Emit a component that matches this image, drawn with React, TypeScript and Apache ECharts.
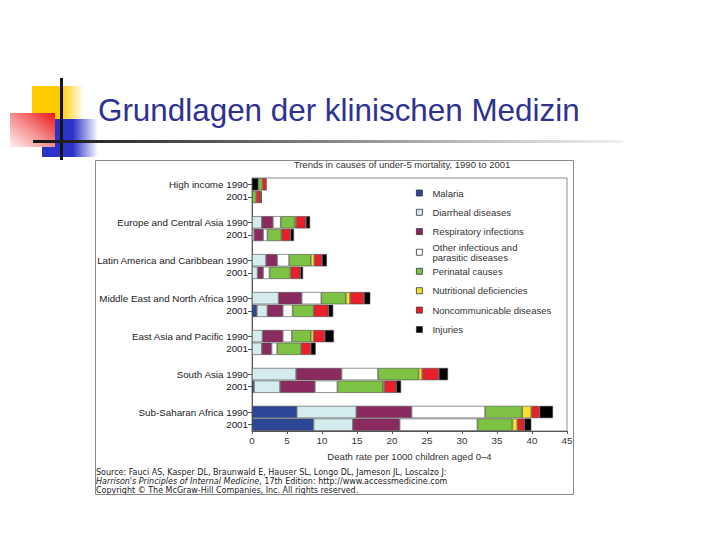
import React, { useEffect, useRef } from "react";
import * as echarts from "echarts";

const regions = [
  "High income",
  "Europe and Central Asia",
  "Latin America and Caribbean",
  "Middle East and North Africa",
  "East Asia and Pacific",
  "South Asia",
  "Sub-Saharan Africa",
];
const years = ["1990", "2001"];

// order: [HI90, HI01, EU90, EU01, LA90, LA01, ME90, ME01, EA90, EA01, SA90, SA01, SSA90, SSA01]
const injuriesLead = [0.9, 0, 0, 0, 0, 0, 0, 0, 0, 0, 0, 0, 0, 0];
const malaria = [0, 0, 0, 0, 0, 0, 0, 0.7, 0, 0, 0, 0.3, 6.4, 8.8];
const diarrheal = [0, 0, 1.4, 0.3, 2.0, 0.8, 3.8, 1.5, 1.5, 1.4, 6.3, 3.7, 8.5, 5.6];
const respiratory = [0, 0, 1.6, 1.3, 1.6, 0.8, 3.3, 2.2, 2.9, 1.4, 6.5, 5.0, 7.9, 6.7];
const otherInfectious = [0, 0, 1.1, 0.6, 1.7, 0.9, 2.8, 1.4, 1.3, 0.8, 5.2, 3.2, 10.5, 11.1];
const perinatal = [0.6, 0.6, 2.0, 2.0, 3.1, 3.0, 3.5, 3.0, 2.7, 3.4, 5.8, 6.5, 5.3, 5.0];
const nutritional = [0, 0, 0.2, 0, 0.5, 0, 0.6, 0, 0.4, 0, 0.5, 0.2, 1.3, 0.7];
const noncommunicable = [0.6, 0.6, 1.4, 1.3, 1.1, 1.4, 2.0, 2.1, 1.6, 1.4, 2.4, 1.7, 1.2, 1.0];
const injuries = [0, 0.2, 0.6, 0.5, 0.7, 0.4, 0.9, 0.7, 1.3, 0.7, 1.3, 0.7, 1.9, 1.0];

const xTicks = [0, 5, 10, 15, 20, 25, 30, 35, 40, 45];

const causes = [
  { name: "Malaria", label: "Malaria", color: "#2b4796", values: malaria },
  { name: "Diarrheal diseases", label: "Diarrheal diseases", color: "#d5ecef", values: diarrheal },
  { name: "Respiratory infections", label: "Respiratory infections", color: "#8a2a5f", values: respiratory },
  { name: "Other infectious and parasitic diseases", label: "Other infectious and\nparasitic diseases", color: "#ffffff", values: otherInfectious },
  { name: "Perinatal causes", label: "Perinatal causes", color: "#7dc242", values: perinatal },
  { name: "Nutritional deficiencies", label: "Nutritional deficiencies", color: "#f6e22a", values: nutritional },
  { name: "Noncommunicable diseases", label: "Noncommunicable diseases", color: "#e8202a", values: noncommunicable },
  { name: "Injuries", label: "Injuries", color: "#000000", values: injuries },
];

const FONT = "Liberation Sans, Arial, sans-serif";
const SRC_FONT = "DejaVu Sans, Verdana, sans-serif";

function buildCategories() {
  const cats: string[] = [];
  regions.forEach((r, i) => {
    cats.push(`${r} ${years[0]}`);
    cats.push(years[1]);
    if (i < regions.length - 1) cats.push(" ".repeat(i + 1));
  });
  return cats;
}

function expand(values: number[]) {
  const out: (number | string)[] = [];
  regions.forEach((_, i) => {
    const a = values[i * 2];
    const b = values[i * 2 + 1];
    out.push(a === 0 ? "-" : a);
    out.push(b === 0 ? "-" : b);
    if (i < regions.length - 1) out.push("-");
  });
  return out;
}

export default function App() {
  const ref = useRef<HTMLDivElement>(null);

  useEffect(() => {
    if (!ref.current) return;
    const chart = echarts.init(ref.current, undefined, { renderer: "svg" });
    const categories = buildCategories();

    const barItem = (color: string) => ({
      color,
      borderColor: "#4a4a4a",
      borderWidth: 0.6,
    });

    const series: any[] = [
      {
        name: "Injuries",
        type: "bar",
        stack: "total",
        barCategoryGap: "3%",
        data: expand(injuriesLead),
        itemStyle: barItem("#000000"),
      },
      ...causes.map((c) => ({
        name: c.name,
        type: "bar",
        stack: "total",
        barCategoryGap: "3%",
        data: expand(c.values),
        itemStyle: barItem(c.color),
      })),
    ];

    const labelMap: Record<string, string> = {};
    causes.forEach((c) => (labelMap[c.name] = c.label));

    const legendBase = {
      orient: "vertical",
      left: 416,
      padding: 0,
      icon: "rect",
      itemWidth: 6,
      itemHeight: 6,
      selectedMode: false,
      itemStyle: { borderColor: "#333", borderWidth: 0.8 },
      formatter: (n: string) => labelMap[n] || n,
      textStyle: {
        fontFamily: FONT,
        fontSize: 9.5,
        color: "#333",
        lineHeight: 11,
        padding: [0, 0, 0, 5],
      },
    };

    const srcStyle = {
      fontFamily: SRC_FONT,
      fontSize: 8,
      fill: "#222",
      verticalAlign: "middle",
    };

    const option: any = {
      animation: false,
      backgroundColor: "#ffffff",
      title: {
        text: "Trends in causes of under-5 mortality, 1990 to 2001",
        left: 402,
        top: 159,
        padding: 0,
        textAlign: "center",
        textStyle: { fontFamily: FONT, fontSize: 9.5, fontWeight: "normal", color: "#333" },
      },
      legend: [
        {
          ...legendBase,
          top: 187.5,
          itemGap: 8.3,
          data: causes.slice(0, 3).map((c) => c.name),
        },
        {
          ...legendBase,
          top: 242.5,
          itemGap: 8,
          textStyle: { ...legendBase.textStyle, lineHeight: 9.5 },
          data: [causes[3].name],
        },
        {
          ...legendBase,
          top: 265.8,
          itemGap: 8.4,
          data: causes.slice(4).map((c) => c.name),
        },
      ],
      grid: {
        left: 252,
        right: 720 - 567,
        top: 178,
        bottom: 540 - 431,
        show: true,
        borderColor: "#8c8c8c",
        borderWidth: 1,
        backgroundColor: "transparent",
      },
      xAxis: {
        type: "value",
        min: xTicks[0],
        max: xTicks[xTicks.length - 1],
        interval: xTicks[1] - xTicks[0],
        name: "Death rate per 1000 children aged 0\u20134",
        nameLocation: "middle",
        nameGap: 20,
        nameTextStyle: { fontFamily: FONT, fontSize: 9.6, color: "#333" },
        axisLine: { show: true, lineStyle: { color: "#555", width: 1 } },
        axisTick: { show: true, length: 3, lineStyle: { color: "#555" } },
        axisLabel: { fontFamily: FONT, fontSize: 9.8, color: "#333", margin: 4 },
        splitLine: { show: false },
      },
      yAxis: {
        type: "category",
        inverse: true,
        data: categories,
        axisLine: { show: true, lineStyle: { color: "#555", width: 1 } },
        axisTick: {
          show: true,
          length: 4,
          alignWithLabel: true,
          interval: (idx: number, val: string) => val.trim() !== "",
          lineStyle: { color: "#555" },
        },
        axisLabel: {
          interval: 0,
          fontFamily: FONT,
          fontSize: 9.8,
          color: "#222",
          margin: 4,
        },
        splitLine: { show: false },
      },
      graphic: [
        // decorative logo
        {
          type: "rect",
          shape: { x: 32, y: 86, width: 52, height: 33 },
          style: {
            fill: new echarts.graphic.LinearGradient(0, 0, 1, 0, [
              { offset: 0, color: "#ffcc00" },
              { offset: 0.55, color: "#ffcc00" },
              { offset: 1, color: "rgba(255,204,0,0)" },
            ]),
          },
        },
        {
          type: "rect",
          shape: { x: 42, y: 119, width: 56, height: 38 },
          style: {
            fill: new echarts.graphic.LinearGradient(0, 0, 1, 0, [
              { offset: 0, color: "#2c34c8" },
              { offset: 0.55, color: "#2c34c8" },
              { offset: 1, color: "rgba(44,52,200,0)" },
            ]),
          },
        },
        {
          type: "rect",
          shape: { x: 10, y: 113, width: 45, height: 34 },
          style: {
            fill: new echarts.graphic.LinearGradient(0, 1, 1, 0, [
              { offset: 0, color: "#fff2f2" },
              { offset: 0.5, color: "#f58c8c" },
              { offset: 1, color: "#ec1515" },
            ]),
          },
        },
        {
          type: "rect",
          shape: { x: 60, y: 78, width: 3, height: 82 },
          style: { fill: "#141414" },
        },
        {
          type: "rect",
          shape: { x: 33, y: 140, width: 590, height: 3 },
          style: {
            fill: new echarts.graphic.LinearGradient(0, 0, 1, 0, [
              { offset: 0, color: "#141414" },
              { offset: 0.3, color: "#555555" },
              { offset: 0.7, color: "#b5b5b5" },
              { offset: 1, color: "#f0f0f0" },
            ]),
          },
        },
        {
          type: "text",
          x: 98,
          y: 110,
          style: {
            text: "Grundlagen der klinischen Medizin",
            fontFamily: FONT,
            fontSize: 31.4,
            fill: "#2e3192",
            verticalAlign: "middle",
            align: "left",
          },
        },
        // figure frame
        {
          type: "rect",
          shape: { x: 95.5, y: 160.5, width: 478, height: 334 },
          style: { fill: "none", stroke: "#8a8a8a", lineWidth: 1 },
          z: 10,
        },
        // source texts
        {
          type: "text",
          x: 96,
          y: 472.5,
          style: {
            ...srcStyle,
            text: "Source: Fauci AS, Kasper DL, Braunwald E, Hauser SL, Longo DL, Jameson JL, Loscalzo J:",
          },
        },
        {
          type: "text",
          x: 96,
          y: 481,
          style: {
            ...srcStyle,
            text: "{i|Harrison's Principles of Internal Medicine}, 17th Edition: http://www.accessmedicine.com",
            rich: {
              i: {
                fontStyle: "italic",
                fontFamily: SRC_FONT,
                fontSize: 8,
                fill: "#222",
              },
            },
          },
        },
        {
          type: "text",
          x: 96,
          y: 490,
          style: {
            ...srcStyle,
            text: "Copyright \u00a9 The McGraw-Hill Companies, Inc. All rights reserved.",
          },
        },
      ],
      series,
    };

    chart.setOption(option);
    return () => {
      chart.dispose();
    };
  }, []);

  return (
    <div
      ref={ref}
      style={{ position: "absolute", left: 0, top: 0, width: 720, height: 540, background: "#fff" }}
    />
  );
}
